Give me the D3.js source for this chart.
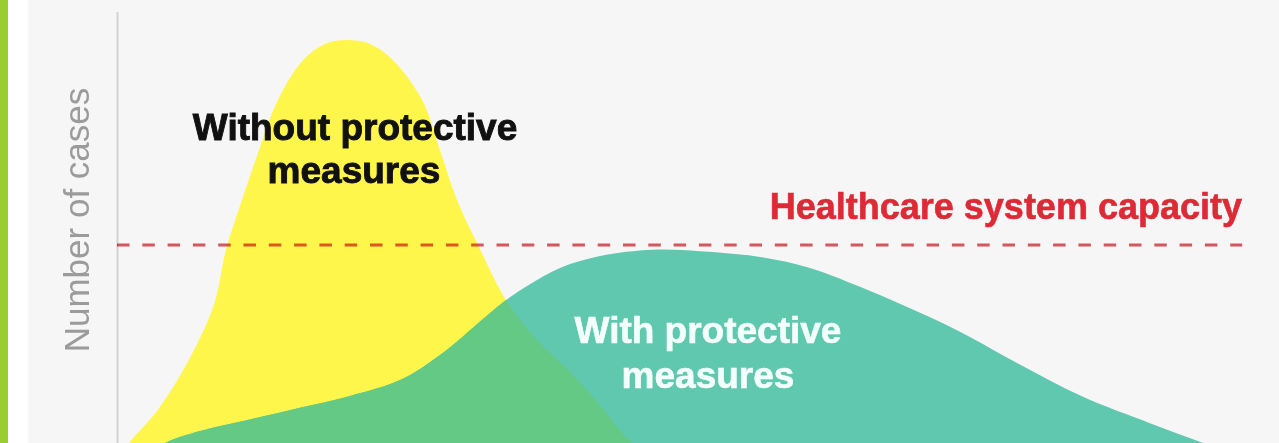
<!DOCTYPE html>
<html><head><meta charset="utf-8">
<script src="https://cdn.jsdelivr.net/npm/d3@7"></script>
<style>
html,body{margin:0;padding:0;background:#f6f6f7;overflow:hidden;}
svg{display:block;}
</style></head><body>
<svg id="chart" width="1279" height="443"></svg>
<script>
// Time (0-100) and number of cases (0-100)
const withoutX = [0, 1.06, 3.55, 6.29, 8.6, 9.66, 11.08, 12.59, 14.27, 16.49, 18.44, 20.39, 22.43, 24.47, 27.04, 28.63, 30.14, 32.0, 34.49, 37.23, 40.07, 42.82, 45.66, 48.1, 51.7];
const withoutY = [0.7, 5.0, 12.3, 23.5, 36.5, 48.9, 60.2, 71.6, 83.0, 92.0, 95.7, 96.6, 95.7, 92.0, 83.0, 71.6, 60.2, 50.0, 37.5, 28.4, 21.4, 13.6, 5.0, 1.6, 0.2];
const withX = [1.15, 4.26, 7.36, 12.06, 16.22, 20.66, 25.09, 28.63, 32.45, 34.49, 36.61, 39.27, 42.82, 47.52, 51.68, 57.0, 61.44, 65.87, 73.85, 79.79, 85.64, 91.58, 96.28, 100];
const withY = [0, 5.0, 7.7, 10.5, 13.0, 15.7, 19.3, 25.0, 33.2, 37.5, 41.1, 44.8, 47.5, 48.9, 48.6, 47.3, 44.8, 40.5, 31.4, 23.2, 15.5, 9.5, 5.0, 1.1];
const capacity = 50;
const seriesLabels = [["Without protective", "measures"], ["With protective", "measures"]];
const capacityLabel = "Healthcare system capacity";
const yAxisLabel = "Number of cases";

const withoutData = withoutX.map((t, i) => ({t, v: withoutY[i]}));
const withData = withX.map((t, i) => ({t, v: withY[i]}));

const svg = d3.select("#chart");
const W = 1279, H = 443;

// frame / background
svg.append("rect").attr("x", 0).attr("y", 0).attr("width", W).attr("height", H).attr("fill", "#f6f6f7");
svg.append("rect").attr("x", 8).attr("y", 0).attr("width", 20).attr("height", H).attr("fill", "#ffffff");
svg.append("rect").attr("x", 0).attr("y", 0).attr("width", 8).attr("height", H).attr("fill", "#9acd32");

const x = d3.scaleLinear().domain([0, 100]).range([117, 1245]);
const y = d3.scaleLinear().domain([0, 100]).range([465, 25]);

const area = d3.area()
  .x(d => x(d.t))
  .y0(y(0))
  .y1(d => y(d.v))
  .curve(d3.curveCatmullRom.alpha(0.5));

svg.append("defs").append("clipPath").attr("id", "withClip")
  .append("path").attr("d", area(withData));

svg.append("path").attr("d", area(withoutData)).attr("fill", "#fff64c");
svg.append("path").attr("d", area(withData)).attr("fill", "#5fc8ae");
svg.append("path").attr("d", area(withoutData)).attr("fill", "#65c986").attr("clip-path", "url(#withClip)");

// y axis line
const yAxisScale = d3.scaleLinear().domain([0, 103]).range([y(0), y(103)]);
const gAxis = svg.append("g").attr("transform", `translate(${x(0)},0)`)
  .call(d3.axisLeft(yAxisScale).ticks(0).tickSizeOuter(0));
gAxis.select(".domain").attr("stroke", "#d2d2d2").attr("stroke-width", 2);

// capacity line
svg.append("line")
  .attr("x1", x(0)).attr("x2", x(99.75))
  .attr("y1", y(capacity)).attr("y2", y(capacity))
  .attr("stroke", "#dc5a60").attr("stroke-width", 3)
  .attr("stroke-dasharray", "12.5,12.8")
  .style("mix-blend-mode", "multiply");

const font = "'Liberation Sans', Arial, sans-serif";

svg.append("text")
  .attr("transform", "translate(89,220) rotate(-90)")
  .attr("text-anchor", "middle")
  .attr("font-family", font).attr("font-size", 35)
  .attr("fill", "#9b9b9b")
  .text(yAxisLabel);

const t1 = svg.append("text").attr("text-anchor", "middle")
  .attr("font-family", font).attr("font-size", 37).attr("font-weight", "bold")
  .attr("fill", "#111111").attr("stroke", "#111111").attr("stroke-width", 0.9);
t1.append("tspan").attr("x", 355).attr("y", 140).text(seriesLabels[0][0]);
t1.append("tspan").attr("x", 354).attr("y", 183).text(seriesLabels[0][1]);

const t2 = svg.append("text").attr("text-anchor", "middle")
  .attr("font-family", font).attr("font-size", 37).attr("font-weight", "bold")
  .attr("fill", "#f4fffb").attr("stroke", "#f4fffb").attr("stroke-width", 0.6);
t2.append("tspan").attr("x", 708).attr("y", 343).text(seriesLabels[1][0]);
t2.append("tspan").attr("x", 708).attr("y", 388).text(seriesLabels[1][1]);

svg.append("text")
  .attr("x", 1242).attr("y", 219)
  .attr("text-anchor", "end")
  .attr("font-family", font).attr("font-size", 36).attr("font-weight", "bold")
  .attr("fill", "#dd2a36").attr("stroke", "#dd2a36").attr("stroke-width", 0.6)
  .text(capacityLabel);
</script>
</body></html>
